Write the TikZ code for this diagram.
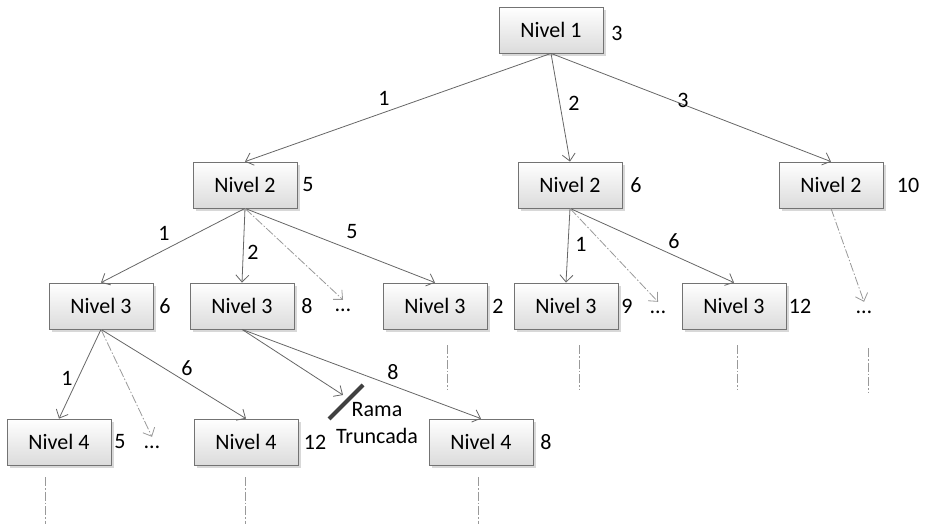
\documentclass[tikz,border=0pt]{standalone}
\usepackage{fontspec}
\setmainfont{Carlito}
\usetikzlibrary{arrows.meta,shadows}

\tikzset{
  caja/.style={draw=black!55, line width=0.8pt, top color=white, bottom color=black!14,
    minimum width=104pt, minimum height=46pt, inner sep=0pt,
    drop shadow={shadow xshift=3pt, shadow yshift=-3pt, fill=black!30, opacity=0.5}},
  flecha/.style={draw=black!60, line width=0.8pt, -{Straight Barb[length=7pt,width=13pt]}},
  punteada/.style={draw=black!40, line width=0.8pt, dash pattern=on 9pt off 2pt on 1.5pt off 2pt,
    -{Straight Barb[length=7pt,width=13pt]}},
  sigue/.style={draw=black!40, line width=0.8pt, dash pattern=on 9pt off 2pt on 1.5pt off 2pt},
  num/.style={inner sep=1pt},
  puntos/.style={inner sep=1pt, anchor=base, text height=10pt},
}

\begin{document}
\begin{tikzpicture}[x=1pt, y=-1pt, font=\fontsize{22}{27}\selectfont]

\useasboundingbox (0,0) rectangle (925,524);

% cajas
\node[caja] (n1) at (551,30) {Nivel 1};
\node[caja] (n2a) at (245,185) {Nivel 2};
\node[caja] (n2b) at (570,185) {Nivel 2};
\node[caja] (n2c) at (831,185) {Nivel 2};
\node[caja] (n3a) at (101,306) {Nivel 3};
\node[caja] (n3b) at (242,306) {Nivel 3};
\node[caja] (n3c) at (435,306) {Nivel 3};
\node[caja] (n3d) at (566,306) {Nivel 3};
\node[caja] (n3e) at (734,306) {Nivel 3};
\node[caja] (n4a) at (59,442) {Nivel 4};
\node[caja] (n4b) at (246,442) {Nivel 4};
\node[caja] (n4c) at (481,442) {Nivel 4};

% cotas
\node[num] (c1) at (617,33) {3};
\node[num] (c2a) at (308,185) {5};
\node[num] (c2b) at (636,185) {6};
\node[num] (c2c) at (908,185) {10};
\node[num] (c3a) at (165,306) {6};
\node[num] (c3b) at (307,306) {8};
\node[num] (c3c) at (498,306) {2};
\node[num] (c3d) at (627,306) {9};
\node[num] (c3e) at (800,306) {12};
\node[num] (c4a) at (120,442) {5};
\node[num] (c4b) at (315,442) {12};
\node[num] (c4c) at (546,442) {8};

% ramas sin expandir
\node[puntos] (p2a) at (343,311) {\dots};
\node[puntos] (p2b) at (658,313) {\dots};
\node[puntos] (p2c) at (864,313) {\dots};
\node[puntos] (p3a) at (152,448) {\dots};

% aristas
\draw[flecha] (n1.south) -- (n2a.north);
\draw[flecha] (n1.south) -- (n2b.north);
\draw[flecha] (n1.south) -- (n2c.north);
\draw[flecha] (n2a.south) -- (n3a.north);
\draw[flecha] (n2a.south) -- (n3b.north);
\draw[flecha] (n2a.south) -- (n3c.north);
\draw[punteada] (n2a.south) -- (p2a.north);
\draw[flecha] (n2b.south) -- (n3d.north);
\draw[flecha] (n2b.south) -- (n3e.north);
\draw[punteada] (n2b.south) -- (p2b.north);
\draw[punteada] (n2c.south) -- (p2c.north);
\draw[flecha] (n3a.south) -- (n4a.north);
\draw[flecha] (n3a.south) -- (n4b.north);
\draw[punteada] (n3a.south) -- (p3a.north);
\draw[flecha] (n3b.south) -- (n4c.north);

% rama truncada
\coordinate (corte) at (343,395);
\coordinate (barraA) at (329,419);
\coordinate (barraB) at (363,385);
\draw[flecha] (n3b.south) -- (corte);
\draw[line width=4pt, black!75] (barraA) -- (barraB);
\node[align=center, inner sep=0pt] (rama) at (377,423) {Rama\\Truncada};

% etiquetas de aristas
\node[num] (e1) at (384,98) {1};
\node[num] (e2) at (574,103) {2};
\node[num] (e3) at (683,100) {3};
\node[num] (e21) at (164,233) {1};
\node[num] (e22) at (253,252) {2};
\node[num] (e25) at (352,232) {5};
\node[num] (e31) at (581,244) {1};
\node[num] (e36) at (674,241) {6};
\node[num] (e41) at (67,378) {1};
\node[num] (e46) at (187,368) {6};
\node[num] (e48) at (393,372) {8};

% continuaciones
\coordinate (s3c) at (447,345); \coordinate (t3c) at (447,390);
\coordinate (s3d) at (579,345); \coordinate (t3d) at (579,390);
\coordinate (s3e) at (737,345); \coordinate (t3e) at (737,390);
\coordinate (s2c) at (868,348); \coordinate (t2c) at (868,393);
\coordinate (s4a) at (45,477);  \coordinate (t4a) at (45,524);
\coordinate (s4b) at (245,477); \coordinate (t4b) at (245,524);
\coordinate (s4c) at (478,477); \coordinate (t4c) at (478,524);
\draw[sigue] (s3c) -- (t3c);
\draw[sigue] (s3d) -- (t3d);
\draw[sigue] (s3e) -- (t3e);
\draw[sigue] (s2c) -- (t2c);
\draw[sigue] (s4a) -- (t4a);
\draw[sigue] (s4b) -- (t4b);
\draw[sigue] (s4c) -- (t4c);

\end{tikzpicture}
\end{document}
